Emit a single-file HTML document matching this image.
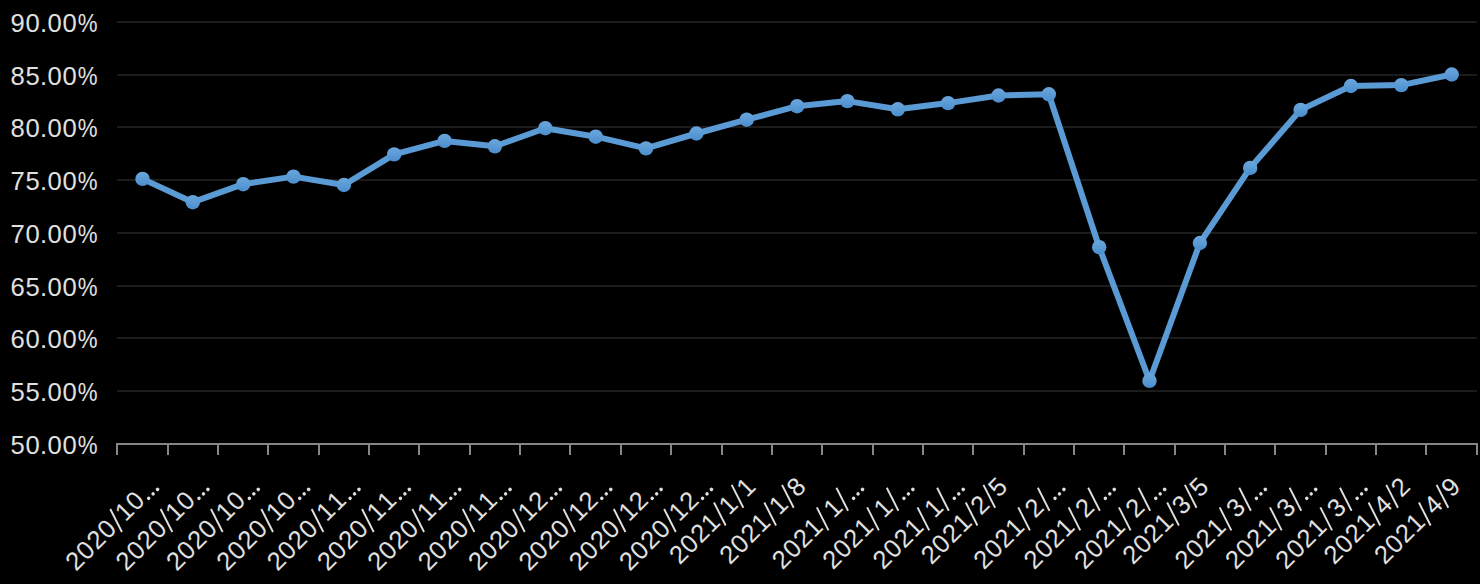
<!DOCTYPE html>
<html><head><meta charset="utf-8"><title>chart</title>
<style>
html,body{margin:0;padding:0;background:#000;}
body{width:1480px;height:584px;overflow:hidden;font-family:"Liberation Sans",sans-serif;}
svg{display:block;}
text{font-family:"Liberation Sans",sans-serif;}
</style></head><body>
<svg width="1480" height="584" viewBox="0 0 1480 584">
<defs><linearGradient id="mk" x1="0" y1="0" x2="0" y2="1"><stop offset="0" stop-color="#6aa6dc"/><stop offset="0.5" stop-color="#5b9bd5"/><stop offset="1" stop-color="#4a8dcc"/></linearGradient></defs>
<rect x="0" y="0" width="1480" height="584" fill="#000"/>
<rect x="117" y="21" width="1360" height="2" fill="#1b1b1b"/>
<rect x="117" y="74" width="1360" height="2" fill="#1b1b1b"/>
<rect x="117" y="126" width="1360" height="2" fill="#1b1b1b"/>
<rect x="117" y="179" width="1360" height="2" fill="#1b1b1b"/>
<rect x="117" y="232" width="1360" height="2" fill="#1b1b1b"/>
<rect x="117" y="285" width="1360" height="2" fill="#1b1b1b"/>
<rect x="117" y="337" width="1360" height="2" fill="#1b1b1b"/>
<rect x="117" y="390" width="1360" height="2" fill="#1b1b1b"/>
<rect x="116" y="443" width="1362" height="2" fill="#868686"/>
<rect x="116" y="444" width="2" height="11" fill="#868686"/>
<rect x="167" y="444" width="2" height="11" fill="#868686"/>
<rect x="217" y="444" width="2" height="11" fill="#868686"/>
<rect x="267" y="444" width="2" height="11" fill="#868686"/>
<rect x="318" y="444" width="2" height="11" fill="#868686"/>
<rect x="368" y="444" width="2" height="11" fill="#868686"/>
<rect x="418" y="444" width="2" height="11" fill="#868686"/>
<rect x="469" y="444" width="2" height="11" fill="#868686"/>
<rect x="519" y="444" width="2" height="11" fill="#868686"/>
<rect x="569" y="444" width="2" height="11" fill="#868686"/>
<rect x="620" y="444" width="2" height="11" fill="#868686"/>
<rect x="670" y="444" width="2" height="11" fill="#868686"/>
<rect x="721" y="444" width="2" height="11" fill="#868686"/>
<rect x="771" y="444" width="2" height="11" fill="#868686"/>
<rect x="821" y="444" width="2" height="11" fill="#868686"/>
<rect x="872" y="444" width="2" height="11" fill="#868686"/>
<rect x="922" y="444" width="2" height="11" fill="#868686"/>
<rect x="972" y="444" width="2" height="11" fill="#868686"/>
<rect x="1023" y="444" width="2" height="11" fill="#868686"/>
<rect x="1073" y="444" width="2" height="11" fill="#868686"/>
<rect x="1123" y="444" width="2" height="11" fill="#868686"/>
<rect x="1174" y="444" width="2" height="11" fill="#868686"/>
<rect x="1224" y="444" width="2" height="11" fill="#868686"/>
<rect x="1274" y="444" width="2" height="11" fill="#868686"/>
<rect x="1325" y="444" width="2" height="11" fill="#868686"/>
<rect x="1375" y="444" width="2" height="11" fill="#868686"/>
<rect x="1425" y="444" width="2" height="11" fill="#868686"/>
<rect x="1476" y="444" width="2" height="11" fill="#868686"/>
<g transform="translate(98.20 31.90)"><text x="-87.72 -72.72 -58.11 -50.62 -35.62" y="0" font-size="25.6" fill="#e0e0e0">90.00</text><text transform="translate(-20.40 0) scale(0.87 1)" x="0" y="0" font-size="25.6" fill="#e0e0e0">%</text></g>
<g transform="translate(98.20 84.90)"><text x="-87.72 -72.72 -58.11 -50.62 -35.62" y="0" font-size="25.6" fill="#e0e0e0">85.00</text><text transform="translate(-20.40 0) scale(0.87 1)" x="0" y="0" font-size="25.6" fill="#e0e0e0">%</text></g>
<g transform="translate(98.20 136.90)"><text x="-87.72 -72.72 -58.11 -50.62 -35.62" y="0" font-size="25.6" fill="#e0e0e0">80.00</text><text transform="translate(-20.40 0) scale(0.87 1)" x="0" y="0" font-size="25.6" fill="#e0e0e0">%</text></g>
<g transform="translate(98.20 189.90)"><text x="-87.72 -72.72 -58.11 -50.62 -35.62" y="0" font-size="25.6" fill="#e0e0e0">75.00</text><text transform="translate(-20.40 0) scale(0.87 1)" x="0" y="0" font-size="25.6" fill="#e0e0e0">%</text></g>
<g transform="translate(98.20 242.90)"><text x="-87.72 -72.72 -58.11 -50.62 -35.62" y="0" font-size="25.6" fill="#e0e0e0">70.00</text><text transform="translate(-20.40 0) scale(0.87 1)" x="0" y="0" font-size="25.6" fill="#e0e0e0">%</text></g>
<g transform="translate(98.20 295.90)"><text x="-87.72 -72.72 -58.11 -50.62 -35.62" y="0" font-size="25.6" fill="#e0e0e0">65.00</text><text transform="translate(-20.40 0) scale(0.87 1)" x="0" y="0" font-size="25.6" fill="#e0e0e0">%</text></g>
<g transform="translate(98.20 347.90)"><text x="-87.72 -72.72 -58.11 -50.62 -35.62" y="0" font-size="25.6" fill="#e0e0e0">60.00</text><text transform="translate(-20.40 0) scale(0.87 1)" x="0" y="0" font-size="25.6" fill="#e0e0e0">%</text></g>
<g transform="translate(98.20 400.90)"><text x="-87.72 -72.72 -58.11 -50.62 -35.62" y="0" font-size="25.6" fill="#e0e0e0">55.00</text><text transform="translate(-20.40 0) scale(0.87 1)" x="0" y="0" font-size="25.6" fill="#e0e0e0">%</text></g>
<g transform="translate(98.20 453.90)"><text x="-87.72 -72.72 -58.11 -50.62 -35.62" y="0" font-size="25.6" fill="#e0e0e0">50.00</text><text transform="translate(-20.40 0) scale(0.87 1)" x="0" y="0" font-size="25.6" fill="#e0e0e0">%</text></g>
<path d="M142.5 178.9 L192.8 202.2 L243.2 184.2 L293.5 176.6 L343.9 185.0 L394.2 154.4 L444.6 140.9 L494.9 146.3 L545.3 128.2 L595.7 136.7 L646.0 148.4 L696.4 133.5 L746.7 119.7 L797.1 106.2 L847.4 101.1 L897.8 109.3 L948.1 103.1 L998.5 95.5 L1048.8 94.3 L1099.2 247.2 L1149.5 380.8 L1199.9 243.0 L1250.2 167.9 L1300.6 109.9 L1350.9 86.0 L1401.3 85.1 L1451.7 74.5" fill="none" stroke="#5b9bd5" stroke-width="6" stroke-linejoin="round" stroke-linecap="round"/>
<circle cx="142.5" cy="178.9" r="7.2" fill="url(#mk)"/>
<circle cx="192.8" cy="202.2" r="7.2" fill="url(#mk)"/>
<circle cx="243.2" cy="184.2" r="7.2" fill="url(#mk)"/>
<circle cx="293.5" cy="176.6" r="7.2" fill="url(#mk)"/>
<circle cx="343.9" cy="185.0" r="7.2" fill="url(#mk)"/>
<circle cx="394.2" cy="154.4" r="7.2" fill="url(#mk)"/>
<circle cx="444.6" cy="140.9" r="7.2" fill="url(#mk)"/>
<circle cx="494.9" cy="146.3" r="7.2" fill="url(#mk)"/>
<circle cx="545.3" cy="128.2" r="7.2" fill="url(#mk)"/>
<circle cx="595.7" cy="136.7" r="7.2" fill="url(#mk)"/>
<circle cx="646.0" cy="148.4" r="7.2" fill="url(#mk)"/>
<circle cx="696.4" cy="133.5" r="7.2" fill="url(#mk)"/>
<circle cx="746.7" cy="119.7" r="7.2" fill="url(#mk)"/>
<circle cx="797.1" cy="106.2" r="7.2" fill="url(#mk)"/>
<circle cx="847.4" cy="101.1" r="7.2" fill="url(#mk)"/>
<circle cx="897.8" cy="109.3" r="7.2" fill="url(#mk)"/>
<circle cx="948.1" cy="103.1" r="7.2" fill="url(#mk)"/>
<circle cx="998.5" cy="95.5" r="7.2" fill="url(#mk)"/>
<circle cx="1048.8" cy="94.3" r="7.2" fill="url(#mk)"/>
<circle cx="1099.2" cy="247.2" r="7.2" fill="url(#mk)"/>
<circle cx="1149.5" cy="380.8" r="7.2" fill="url(#mk)"/>
<circle cx="1199.9" cy="243.0" r="7.2" fill="url(#mk)"/>
<circle cx="1250.2" cy="167.9" r="7.2" fill="url(#mk)"/>
<circle cx="1300.6" cy="109.9" r="7.2" fill="url(#mk)"/>
<circle cx="1350.9" cy="86.0" r="7.2" fill="url(#mk)"/>
<circle cx="1401.3" cy="85.1" r="7.2" fill="url(#mk)"/>
<circle cx="1451.7" cy="74.5" r="7.2" fill="url(#mk)"/>
<g transform="translate(159.98 488.00) rotate(-45)"><text x="-118.82 -103.82 -88.82 -73.82 -48.82 -33.82" y="0" font-size="25.6" fill="#e0e0e0">202010</text><line x1="-58.00" y1="4.2" x2="-50.00" y2="-20.3" stroke="#e0e0e0" stroke-width="1.9"/><circle cx="-15.30" cy="-0.7" r="1.75" fill="#e0e0e0"/><circle cx="-9.00" cy="-0.7" r="1.75" fill="#e0e0e0"/><circle cx="-2.70" cy="-0.7" r="1.75" fill="#e0e0e0"/></g>
<g transform="translate(210.33 488.00) rotate(-45)"><text x="-118.82 -103.82 -88.82 -73.82 -48.82 -33.82" y="0" font-size="25.6" fill="#e0e0e0">202010</text><line x1="-58.00" y1="4.2" x2="-50.00" y2="-20.3" stroke="#e0e0e0" stroke-width="1.9"/><circle cx="-15.30" cy="-0.7" r="1.75" fill="#e0e0e0"/><circle cx="-9.00" cy="-0.7" r="1.75" fill="#e0e0e0"/><circle cx="-2.70" cy="-0.7" r="1.75" fill="#e0e0e0"/></g>
<g transform="translate(260.68 488.00) rotate(-45)"><text x="-118.82 -103.82 -88.82 -73.82 -48.82 -33.82" y="0" font-size="25.6" fill="#e0e0e0">202010</text><line x1="-58.00" y1="4.2" x2="-50.00" y2="-20.3" stroke="#e0e0e0" stroke-width="1.9"/><circle cx="-15.30" cy="-0.7" r="1.75" fill="#e0e0e0"/><circle cx="-9.00" cy="-0.7" r="1.75" fill="#e0e0e0"/><circle cx="-2.70" cy="-0.7" r="1.75" fill="#e0e0e0"/></g>
<g transform="translate(311.04 488.00) rotate(-45)"><text x="-118.82 -103.82 -88.82 -73.82 -48.82 -33.82" y="0" font-size="25.6" fill="#e0e0e0">202010</text><line x1="-58.00" y1="4.2" x2="-50.00" y2="-20.3" stroke="#e0e0e0" stroke-width="1.9"/><circle cx="-15.30" cy="-0.7" r="1.75" fill="#e0e0e0"/><circle cx="-9.00" cy="-0.7" r="1.75" fill="#e0e0e0"/><circle cx="-2.70" cy="-0.7" r="1.75" fill="#e0e0e0"/></g>
<g transform="translate(361.39 488.00) rotate(-45)"><text x="-118.82 -103.82 -88.82 -73.82 -48.82 -33.82" y="0" font-size="25.6" fill="#e0e0e0">202011</text><line x1="-58.00" y1="4.2" x2="-50.00" y2="-20.3" stroke="#e0e0e0" stroke-width="1.9"/><circle cx="-15.30" cy="-0.7" r="1.75" fill="#e0e0e0"/><circle cx="-9.00" cy="-0.7" r="1.75" fill="#e0e0e0"/><circle cx="-2.70" cy="-0.7" r="1.75" fill="#e0e0e0"/></g>
<g transform="translate(411.74 488.00) rotate(-45)"><text x="-118.82 -103.82 -88.82 -73.82 -48.82 -33.82" y="0" font-size="25.6" fill="#e0e0e0">202011</text><line x1="-58.00" y1="4.2" x2="-50.00" y2="-20.3" stroke="#e0e0e0" stroke-width="1.9"/><circle cx="-15.30" cy="-0.7" r="1.75" fill="#e0e0e0"/><circle cx="-9.00" cy="-0.7" r="1.75" fill="#e0e0e0"/><circle cx="-2.70" cy="-0.7" r="1.75" fill="#e0e0e0"/></g>
<g transform="translate(462.09 488.00) rotate(-45)"><text x="-118.82 -103.82 -88.82 -73.82 -48.82 -33.82" y="0" font-size="25.6" fill="#e0e0e0">202011</text><line x1="-58.00" y1="4.2" x2="-50.00" y2="-20.3" stroke="#e0e0e0" stroke-width="1.9"/><circle cx="-15.30" cy="-0.7" r="1.75" fill="#e0e0e0"/><circle cx="-9.00" cy="-0.7" r="1.75" fill="#e0e0e0"/><circle cx="-2.70" cy="-0.7" r="1.75" fill="#e0e0e0"/></g>
<g transform="translate(512.45 488.00) rotate(-45)"><text x="-118.82 -103.82 -88.82 -73.82 -48.82 -33.82" y="0" font-size="25.6" fill="#e0e0e0">202011</text><line x1="-58.00" y1="4.2" x2="-50.00" y2="-20.3" stroke="#e0e0e0" stroke-width="1.9"/><circle cx="-15.30" cy="-0.7" r="1.75" fill="#e0e0e0"/><circle cx="-9.00" cy="-0.7" r="1.75" fill="#e0e0e0"/><circle cx="-2.70" cy="-0.7" r="1.75" fill="#e0e0e0"/></g>
<g transform="translate(562.80 488.00) rotate(-45)"><text x="-118.82 -103.82 -88.82 -73.82 -48.82 -33.82" y="0" font-size="25.6" fill="#e0e0e0">202012</text><line x1="-58.00" y1="4.2" x2="-50.00" y2="-20.3" stroke="#e0e0e0" stroke-width="1.9"/><circle cx="-15.30" cy="-0.7" r="1.75" fill="#e0e0e0"/><circle cx="-9.00" cy="-0.7" r="1.75" fill="#e0e0e0"/><circle cx="-2.70" cy="-0.7" r="1.75" fill="#e0e0e0"/></g>
<g transform="translate(613.15 488.00) rotate(-45)"><text x="-118.82 -103.82 -88.82 -73.82 -48.82 -33.82" y="0" font-size="25.6" fill="#e0e0e0">202012</text><line x1="-58.00" y1="4.2" x2="-50.00" y2="-20.3" stroke="#e0e0e0" stroke-width="1.9"/><circle cx="-15.30" cy="-0.7" r="1.75" fill="#e0e0e0"/><circle cx="-9.00" cy="-0.7" r="1.75" fill="#e0e0e0"/><circle cx="-2.70" cy="-0.7" r="1.75" fill="#e0e0e0"/></g>
<g transform="translate(663.51 488.00) rotate(-45)"><text x="-118.82 -103.82 -88.82 -73.82 -48.82 -33.82" y="0" font-size="25.6" fill="#e0e0e0">202012</text><line x1="-58.00" y1="4.2" x2="-50.00" y2="-20.3" stroke="#e0e0e0" stroke-width="1.9"/><circle cx="-15.30" cy="-0.7" r="1.75" fill="#e0e0e0"/><circle cx="-9.00" cy="-0.7" r="1.75" fill="#e0e0e0"/><circle cx="-2.70" cy="-0.7" r="1.75" fill="#e0e0e0"/></g>
<g transform="translate(713.86 488.00) rotate(-45)"><text x="-118.82 -103.82 -88.82 -73.82 -48.82 -33.82" y="0" font-size="25.6" fill="#e0e0e0">202012</text><line x1="-58.00" y1="4.2" x2="-50.00" y2="-20.3" stroke="#e0e0e0" stroke-width="1.9"/><circle cx="-15.30" cy="-0.7" r="1.75" fill="#e0e0e0"/><circle cx="-9.00" cy="-0.7" r="1.75" fill="#e0e0e0"/><circle cx="-2.70" cy="-0.7" r="1.75" fill="#e0e0e0"/></g>
<g transform="translate(757.21 488.00) rotate(-45)"><text x="-109.62 -94.62 -79.62 -64.62 -39.62 -14.62" y="0" font-size="25.6" fill="#e0e0e0">202111</text><line x1="-48.80" y1="4.2" x2="-40.80" y2="-20.3" stroke="#e0e0e0" stroke-width="1.9"/><line x1="-23.80" y1="4.2" x2="-15.80" y2="-20.3" stroke="#e0e0e0" stroke-width="1.9"/></g>
<g transform="translate(807.56 488.00) rotate(-45)"><text x="-109.62 -94.62 -79.62 -64.62 -39.62 -14.62" y="0" font-size="25.6" fill="#e0e0e0">202118</text><line x1="-48.80" y1="4.2" x2="-40.80" y2="-20.3" stroke="#e0e0e0" stroke-width="1.9"/><line x1="-23.80" y1="4.2" x2="-15.80" y2="-20.3" stroke="#e0e0e0" stroke-width="1.9"/></g>
<g transform="translate(864.92 488.00) rotate(-45)"><text x="-116.52 -101.52 -86.52 -71.52 -43.82" y="0" font-size="25.6" fill="#e0e0e0">20211</text><line x1="-55.70" y1="4.2" x2="-47.70" y2="-20.3" stroke="#e0e0e0" stroke-width="1.9"/><line x1="-28.00" y1="4.2" x2="-20.00" y2="-20.3" stroke="#e0e0e0" stroke-width="1.9"/><circle cx="-15.30" cy="-0.7" r="1.75" fill="#e0e0e0"/><circle cx="-9.00" cy="-0.7" r="1.75" fill="#e0e0e0"/><circle cx="-2.70" cy="-0.7" r="1.75" fill="#e0e0e0"/></g>
<g transform="translate(915.27 488.00) rotate(-45)"><text x="-116.52 -101.52 -86.52 -71.52 -43.82" y="0" font-size="25.6" fill="#e0e0e0">20211</text><line x1="-55.70" y1="4.2" x2="-47.70" y2="-20.3" stroke="#e0e0e0" stroke-width="1.9"/><line x1="-28.00" y1="4.2" x2="-20.00" y2="-20.3" stroke="#e0e0e0" stroke-width="1.9"/><circle cx="-15.30" cy="-0.7" r="1.75" fill="#e0e0e0"/><circle cx="-9.00" cy="-0.7" r="1.75" fill="#e0e0e0"/><circle cx="-2.70" cy="-0.7" r="1.75" fill="#e0e0e0"/></g>
<g transform="translate(965.62 488.00) rotate(-45)"><text x="-116.52 -101.52 -86.52 -71.52 -43.82" y="0" font-size="25.6" fill="#e0e0e0">20211</text><line x1="-55.70" y1="4.2" x2="-47.70" y2="-20.3" stroke="#e0e0e0" stroke-width="1.9"/><line x1="-28.00" y1="4.2" x2="-20.00" y2="-20.3" stroke="#e0e0e0" stroke-width="1.9"/><circle cx="-15.30" cy="-0.7" r="1.75" fill="#e0e0e0"/><circle cx="-9.00" cy="-0.7" r="1.75" fill="#e0e0e0"/><circle cx="-2.70" cy="-0.7" r="1.75" fill="#e0e0e0"/></g>
<g transform="translate(1008.98 488.00) rotate(-45)"><text x="-109.62 -94.62 -79.62 -64.62 -39.62 -14.62" y="0" font-size="25.6" fill="#e0e0e0">202125</text><line x1="-48.80" y1="4.2" x2="-40.80" y2="-20.3" stroke="#e0e0e0" stroke-width="1.9"/><line x1="-23.80" y1="4.2" x2="-15.80" y2="-20.3" stroke="#e0e0e0" stroke-width="1.9"/></g>
<g transform="translate(1066.33 488.00) rotate(-45)"><text x="-116.52 -101.52 -86.52 -71.52 -43.82" y="0" font-size="25.6" fill="#e0e0e0">20212</text><line x1="-55.70" y1="4.2" x2="-47.70" y2="-20.3" stroke="#e0e0e0" stroke-width="1.9"/><line x1="-28.00" y1="4.2" x2="-20.00" y2="-20.3" stroke="#e0e0e0" stroke-width="1.9"/><circle cx="-15.30" cy="-0.7" r="1.75" fill="#e0e0e0"/><circle cx="-9.00" cy="-0.7" r="1.75" fill="#e0e0e0"/><circle cx="-2.70" cy="-0.7" r="1.75" fill="#e0e0e0"/></g>
<g transform="translate(1116.68 488.00) rotate(-45)"><text x="-116.52 -101.52 -86.52 -71.52 -43.82" y="0" font-size="25.6" fill="#e0e0e0">20212</text><line x1="-55.70" y1="4.2" x2="-47.70" y2="-20.3" stroke="#e0e0e0" stroke-width="1.9"/><line x1="-28.00" y1="4.2" x2="-20.00" y2="-20.3" stroke="#e0e0e0" stroke-width="1.9"/><circle cx="-15.30" cy="-0.7" r="1.75" fill="#e0e0e0"/><circle cx="-9.00" cy="-0.7" r="1.75" fill="#e0e0e0"/><circle cx="-2.70" cy="-0.7" r="1.75" fill="#e0e0e0"/></g>
<g transform="translate(1167.04 488.00) rotate(-45)"><text x="-116.52 -101.52 -86.52 -71.52 -43.82" y="0" font-size="25.6" fill="#e0e0e0">20212</text><line x1="-55.70" y1="4.2" x2="-47.70" y2="-20.3" stroke="#e0e0e0" stroke-width="1.9"/><line x1="-28.00" y1="4.2" x2="-20.00" y2="-20.3" stroke="#e0e0e0" stroke-width="1.9"/><circle cx="-15.30" cy="-0.7" r="1.75" fill="#e0e0e0"/><circle cx="-9.00" cy="-0.7" r="1.75" fill="#e0e0e0"/><circle cx="-2.70" cy="-0.7" r="1.75" fill="#e0e0e0"/></g>
<g transform="translate(1210.39 488.00) rotate(-45)"><text x="-109.62 -94.62 -79.62 -64.62 -39.62 -14.62" y="0" font-size="25.6" fill="#e0e0e0">202135</text><line x1="-48.80" y1="4.2" x2="-40.80" y2="-20.3" stroke="#e0e0e0" stroke-width="1.9"/><line x1="-23.80" y1="4.2" x2="-15.80" y2="-20.3" stroke="#e0e0e0" stroke-width="1.9"/></g>
<g transform="translate(1267.74 488.00) rotate(-45)"><text x="-116.52 -101.52 -86.52 -71.52 -43.82" y="0" font-size="25.6" fill="#e0e0e0">20213</text><line x1="-55.70" y1="4.2" x2="-47.70" y2="-20.3" stroke="#e0e0e0" stroke-width="1.9"/><line x1="-28.00" y1="4.2" x2="-20.00" y2="-20.3" stroke="#e0e0e0" stroke-width="1.9"/><circle cx="-15.30" cy="-0.7" r="1.75" fill="#e0e0e0"/><circle cx="-9.00" cy="-0.7" r="1.75" fill="#e0e0e0"/><circle cx="-2.70" cy="-0.7" r="1.75" fill="#e0e0e0"/></g>
<g transform="translate(1318.09 488.00) rotate(-45)"><text x="-116.52 -101.52 -86.52 -71.52 -43.82" y="0" font-size="25.6" fill="#e0e0e0">20213</text><line x1="-55.70" y1="4.2" x2="-47.70" y2="-20.3" stroke="#e0e0e0" stroke-width="1.9"/><line x1="-28.00" y1="4.2" x2="-20.00" y2="-20.3" stroke="#e0e0e0" stroke-width="1.9"/><circle cx="-15.30" cy="-0.7" r="1.75" fill="#e0e0e0"/><circle cx="-9.00" cy="-0.7" r="1.75" fill="#e0e0e0"/><circle cx="-2.70" cy="-0.7" r="1.75" fill="#e0e0e0"/></g>
<g transform="translate(1368.45 488.00) rotate(-45)"><text x="-116.52 -101.52 -86.52 -71.52 -43.82" y="0" font-size="25.6" fill="#e0e0e0">20213</text><line x1="-55.70" y1="4.2" x2="-47.70" y2="-20.3" stroke="#e0e0e0" stroke-width="1.9"/><line x1="-28.00" y1="4.2" x2="-20.00" y2="-20.3" stroke="#e0e0e0" stroke-width="1.9"/><circle cx="-15.30" cy="-0.7" r="1.75" fill="#e0e0e0"/><circle cx="-9.00" cy="-0.7" r="1.75" fill="#e0e0e0"/><circle cx="-2.70" cy="-0.7" r="1.75" fill="#e0e0e0"/></g>
<g transform="translate(1411.80 488.00) rotate(-45)"><text x="-109.62 -94.62 -79.62 -64.62 -39.62 -14.62" y="0" font-size="25.6" fill="#e0e0e0">202142</text><line x1="-48.80" y1="4.2" x2="-40.80" y2="-20.3" stroke="#e0e0e0" stroke-width="1.9"/><line x1="-23.80" y1="4.2" x2="-15.80" y2="-20.3" stroke="#e0e0e0" stroke-width="1.9"/></g>
<g transform="translate(1462.15 488.00) rotate(-45)"><text x="-109.62 -94.62 -79.62 -64.62 -39.62 -14.62" y="0" font-size="25.6" fill="#e0e0e0">202149</text><line x1="-48.80" y1="4.2" x2="-40.80" y2="-20.3" stroke="#e0e0e0" stroke-width="1.9"/><line x1="-23.80" y1="4.2" x2="-15.80" y2="-20.3" stroke="#e0e0e0" stroke-width="1.9"/></g>
</svg></body></html>
